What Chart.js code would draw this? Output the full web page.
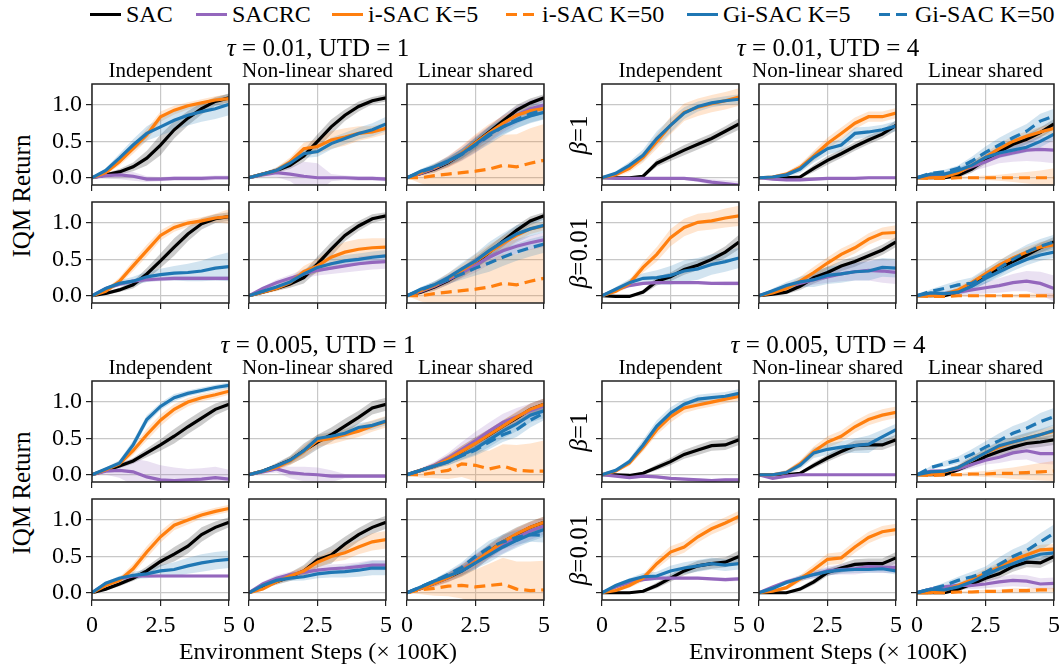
<!DOCTYPE html>
<html>
<head>
<meta charset="utf-8">
<script src="https://cdn.jsdelivr.net/npm/chart.js@4.4.1/dist/chart.umd.min.js"></script>
<style>
  body { margin: 0; width: 1061px; height: 668px; background: #fff; position: relative; overflow: hidden;
         font-family: 'Liberation Serif', 'Times New Roman', serif; color: #000; }
  canvas { position: absolute; }
  .txt { position: absolute; white-space: nowrap; transform: translate(-50%, -50%); line-height: 1; }
  .rot { transform: translate(-50%, -50%) rotate(-90deg); }
  .leg { position: absolute; top: 14px; transform: translateY(-50%); white-space: nowrap; font-size: 24px; line-height: 1;
         display: flex; align-items: center; }
  .sw { display: inline-block; width: 31px; height: 3px; margin-right: 5px; }
</style>
</head>
<body>
<script>
// Learning curves: IQM return vs environment steps (x 100K)
// 4 settings x 2 beta rows x 3 critic types = 24 panels, 11 samples each

const X_STEPS = [0, 0.5, 1, 1.5, 2, 2.5, 3, 3.5, 4, 4.5, 5];
const X_TICKS = [0, 2.5, 5];
const Y_TICKS = [0, 0.5, 1];
const GROUP_TITLES = ['<i>τ</i> = 0.01, UTD = 1', '<i>τ</i> = 0.01, UTD = 4', '<i>τ</i> = 0.005, UTD = 1', '<i>τ</i> = 0.005, UTD = 4'];
const COL_TITLES = ['Independent', 'Non-linear shared', 'Linear shared'];
const ROW_LABELS = ['<i>β</i>=1', '<i>β</i>=0.01'];
const SERIES_NAMES = ['SAC', 'SACRC', 'i-SAC K=5', 'i-SAC K=50', 'Gi-SAC K=5', 'Gi-SAC K=50'];

// panel order: [setting][beta row][Independent, Non-linear shared, Linear shared]
const SAC_MEAN = [
  [0,0.04,0.08,0.15,0.27,0.45,0.66,0.82,0.95,1.05,1.1],
  [0,0.05,0.1,0.17,0.3,0.5,0.7,0.86,0.98,1.06,1.1],
  [0,0.06,0.12,0.21,0.33,0.48,0.63,0.78,0.93,1.03,1.1],
  [0,0.03,0.08,0.15,0.3,0.48,0.67,0.85,0.99,1.06,1.09],
  [0,0.05,0.1,0.16,0.25,0.44,0.64,0.83,0.96,1.06,1.1],
  [0,0.05,0.12,0.21,0.32,0.45,0.6,0.75,0.9,1.03,1.1],
  [0,0,0,0.02,0.2,0.29,0.38,0.46,0.54,0.64,0.74],
  [0,0,0,0.01,0.13,0.24,0.33,0.43,0.52,0.6,0.72],
  [0,0,0,0.03,0.12,0.25,0.36,0.46,0.53,0.62,0.74],
  [0,-0.01,-0.01,0.05,0.2,0.26,0.36,0.42,0.5,0.6,0.74],
  [0,0.02,0.05,0.13,0.25,0.32,0.41,0.47,0.55,0.63,0.74],
  [0,0,0,0.05,0.16,0.27,0.38,0.47,0.56,0.66,0.74],
  [0,0.06,0.12,0.19,0.3,0.41,0.53,0.66,0.78,0.9,0.97],
  [0,0.05,0.12,0.2,0.33,0.45,0.55,0.67,0.79,0.92,0.97],
  [0,0.06,0.12,0.21,0.32,0.44,0.55,0.67,0.78,0.9,0.97],
  [0,0.05,0.12,0.2,0.3,0.43,0.53,0.64,0.8,0.9,0.97],
  [0,0.08,0.15,0.22,0.3,0.45,0.52,0.67,0.8,0.9,0.97],
  [0,0.06,0.13,0.21,0.3,0.42,0.57,0.7,0.8,0.9,0.97],
  [0,0,-0.01,0.02,0.1,0.18,0.28,0.34,0.4,0.41,0.48],
  [0,0,0,0.02,0.13,0.23,0.32,0.4,0.41,0.41,0.48],
  [0,0,0,0.07,0.15,0.25,0.32,0.38,0.43,0.45,0.48],
  [0,0,0,0.02,0.1,0.2,0.3,0.37,0.4,0.42,0.5],
  [0,0,0,0.05,0.15,0.28,0.34,0.39,0.4,0.4,0.48],
  [0,0,0,0.05,0.12,0.2,0.26,0.36,0.42,0.41,0.5]
];
const SAC_BAND = [
  [0,.02,.04,.06,.1,.14,.12,.1,.08,.06,.06],
  [0,.02,.03,.05,.08,.1,.1,.08,.07,.05,.05],
  [0,.03,.05,.06,.07,.08,.08,.08,.07,.06,.05],
  [0,.02,.03,.05,.08,.1,.12,.1,.08,.06,.06],
  [0,.02,.03,.05,.08,.1,.1,.08,.07,.06,.05],
  [0,.03,.05,.06,.07,.08,.08,.08,.07,.06,.05],
  [0,.01,.01,.02,.05,.06,.07,.07,.07,.07,.08],
  [0,.01,.01,.02,.05,.06,.06,.06,.06,.06,.07],
  [0,.01,.02,.03,.05,.06,.07,.07,.07,.07,.07],
  [0,.01,.01,.03,.06,.06,.07,.07,.07,.08,.1],
  [0,.02,.03,.05,.08,.08,.07,.07,.07,.07,.07],
  [0,.01,.02,.03,.05,.06,.07,.07,.07,.07,.07],
  [0,.02,.03,.04,.06,.08,.1,.1,.1,.08,.07],
  [0,.02,.04,.06,.1,.1,.1,.1,.09,.09,.09],
  [0,.02,.04,.06,.08,.08,.08,.08,.08,.08,.08],
  [0,.02,.03,.04,.06,.07,.1,.1,.1,.08,.07],
  [0,.02,.04,.06,.08,.1,.12,.1,.09,.09,.09],
  [0,.02,.04,.06,.08,.1,.1,.1,.1,.08,.08],
  [0,.01,.01,.02,.04,.05,.06,.07,.07,.07,.07],
  [0,.01,.01,.02,.04,.05,.06,.07,.07,.07,.07],
  [0,.01,.02,.03,.04,.05,.06,.07,.07,.07,.07],
  [0,.01,.01,.02,.04,.05,.06,.07,.07,.07,.08],
  [0,.01,.01,.03,.04,.05,.06,.07,.07,.07,.08],
  [0,.01,.02,.03,.04,.05,.06,.07,.07,.07,.07]
];

const SACRC_MEAN = [
  [0,0.03,0.04,0.02,-0.02,-0.02,-0.01,-0.01,-0.01,0,0],
  [0,0.04,0.07,0.05,0.02,0,0,0,-0.01,-0.01,-0.02],
  [0,0.06,0.13,0.22,0.33,0.46,0.6,0.74,0.86,0.95,1.0],
  [0,0.1,0.16,0.2,0.22,0.23,0.24,0.24,0.24,0.24,0.24],
  [0,0.1,0.18,0.24,0.3,0.35,0.38,0.41,0.44,0.46,0.47],
  [0,0.06,0.13,0.22,0.32,0.42,0.53,0.62,0.68,0.73,0.77],
  [0,-0.01,-0.01,-0.01,-0.01,-0.01,-0.01,-0.03,-0.06,-0.08,-0.1],
  [0,-0.02,-0.03,-0.03,-0.02,-0.01,-0.01,-0.01,0,0,0],
  [0,0.04,0.04,0.08,0.15,0.22,0.3,0.34,0.38,0.39,0.38],
  [0,0.08,0.14,0.17,0.18,0.18,0.18,0.18,0.17,0.17,0.17],
  [0,0.06,0.13,0.17,0.22,0.26,0.3,0.33,0.35,0.34,0.32],
  [0,0.02,0.03,0.05,0.08,0.11,0.14,0.18,0.2,0.17,0.1],
  [0,0.05,0.06,0.04,-0.03,-0.07,-0.08,-0.07,-0.06,-0.04,-0.06],
  [0,0.04,0.08,0.03,0.01,0,-0.02,-0.02,-0.02,-0.02,-0.02],
  [0,0.06,0.13,0.23,0.35,0.47,0.6,0.72,0.8,0.88,0.95],
  [0,0.12,0.19,0.23,0.23,0.23,0.23,0.23,0.23,0.23,0.23],
  [0,0.12,0.2,0.25,0.28,0.31,0.33,0.34,0.36,0.38,0.38],
  [0,0.06,0.13,0.21,0.32,0.44,0.56,0.66,0.76,0.85,0.92],
  [0,-0.02,-0.04,-0.02,-0.03,-0.05,-0.06,-0.07,-0.08,-0.07,-0.07],
  [0,-0.05,-0.02,0,0,0,0,0,0,0,0],
  [0,0.05,0.05,0.08,0.14,0.2,0.24,0.3,0.33,0.29,0.29],
  [0,0.08,0.14,0.18,0.2,0.2,0.2,0.2,0.19,0.18,0.19],
  [0,0.08,0.15,0.2,0.25,0.3,0.32,0.33,0.36,0.35,0.35],
  [0,0.05,0.08,0.1,0.1,0.12,0.15,0.17,0.16,0.12,0.13]
];
const SACRC_BAND = [
  [0,.04,.06,.06,.04,.03,.03,.03,.03,.03,.03],
  [0,.03,.06,.1,.2,.2,.05,.03,.03,.03,.03],
  [0,.03,.05,.08,.1,.12,.12,.12,.12,.12,.12],
  [0,.02,.03,.03,.03,.03,.03,.03,.03,.03,.03],
  [0,.02,.04,.05,.06,.07,.08,.09,.1,.1,.1],
  [0,.03,.05,.07,.08,.1,.1,.1,.1,.1,.1],
  [0,.01,.01,.01,.01,.02,.02,.03,.04,.05,.05],
  [0,.01,.02,.02,.02,.02,.02,.02,.02,.02,.02],
  [0,.02,.03,.04,.06,.08,.1,.12,.15,.17,.18],
  [0,.02,.02,.02,.02,.02,.02,.02,.02,.03,.03],
  [0,.03,.04,.05,.07,.08,.1,.12,.14,.16,.16],
  [0,.02,.03,.04,.06,.08,.1,.12,.14,.16,.18],
  [0,.05,.1,.18,.22,.2,.18,.15,.15,.15,.13],
  [0,.03,.05,.08,.1,.1,.08,.03,.02,.02,.02],
  [0,.03,.05,.07,.1,.12,.12,.12,.12,.1,.1],
  [0,.02,.02,.02,.02,.02,.02,.02,.02,.02,.02],
  [0,.03,.04,.04,.05,.05,.06,.06,.06,.07,.07],
  [0,.03,.05,.07,.08,.1,.1,.12,.12,.12,.12],
  [0,.01,.02,.02,.02,.02,.02,.02,.02,.02,.02],
  [0,.02,.02,.01,.01,.01,.01,.01,.01,.01,.01],
  [0,.02,.03,.04,.05,.06,.08,.1,.12,.14,.15],
  [0,.02,.02,.02,.02,.02,.02,.02,.02,.03,.03],
  [0,.02,.03,.04,.05,.06,.07,.08,.08,.08,.08],
  [0,.02,.03,.04,.05,.06,.07,.08,.08,.08,.08]
];

const ISAC5_MEAN = [
  [0,0.07,0.22,0.4,0.59,0.84,0.93,0.99,1.03,1.07,1.09],
  [0,0.05,0.1,0.22,0.4,0.43,0.52,0.56,0.61,0.63,0.68],
  [0,0.07,0.14,0.22,0.34,0.48,0.62,0.75,0.86,0.92,0.95],
  [0,0.06,0.2,0.41,0.62,0.83,0.94,1.0,1.03,1.07,1.09],
  [0,0.05,0.1,0.18,0.33,0.41,0.53,0.6,0.64,0.66,0.67],
  [0,0.07,0.14,0.24,0.35,0.47,0.6,0.72,0.83,0.92,0.96],
  [0,0.04,0.13,0.28,0.5,0.72,0.9,0.97,1.02,1.06,1.11],
  [0,0.01,0.05,0.14,0.3,0.47,0.61,0.75,0.84,0.84,0.89],
  [0,0,0.01,0.07,0.17,0.28,0.4,0.5,0.57,0.63,0.68],
  [0,0.06,0.17,0.39,0.57,0.8,0.94,1.01,1.03,1.07,1.1],
  [0,0.04,0.1,0.2,0.32,0.45,0.57,0.66,0.78,0.86,0.87],
  [0,0,0.02,0.08,0.18,0.3,0.42,0.52,0.6,0.67,0.7],
  [0,0.07,0.15,0.33,0.55,0.75,0.9,1.0,1.06,1.1,1.15],
  [0,0.05,0.1,0.19,0.32,0.47,0.5,0.55,0.6,0.67,0.73],
  [0,0.06,0.12,0.21,0.32,0.43,0.55,0.67,0.79,0.9,0.97],
  [0,0.1,0.17,0.33,0.56,0.77,0.93,1.0,1.07,1.12,1.16],
  [0,0.05,0.15,0.23,0.3,0.42,0.5,0.55,0.63,0.7,0.73],
  [0,0.06,0.13,0.21,0.31,0.43,0.57,0.7,0.81,0.9,0.97],
  [0,0.05,0.16,0.38,0.62,0.8,0.92,0.96,1.0,1.04,1.08],
  [0,0,0.03,0.15,0.32,0.45,0.53,0.66,0.76,0.82,0.86],
  [0,0,0.04,0.1,0.2,0.3,0.38,0.45,0.5,0.55,0.6],
  [0,0.03,0.1,0.2,0.4,0.56,0.63,0.77,0.88,0.96,1.05],
  [0,0.02,0.07,0.19,0.32,0.46,0.48,0.63,0.76,0.84,0.87],
  [0,0,0.03,0.1,0.18,0.27,0.35,0.45,0.52,0.59,0.6]
];
const ISAC5_BAND = [
  [0,.03,.05,.07,.08,.07,.06,.05,.05,.05,.06],
  [0,.02,.04,.06,.08,.1,.12,.12,.1,.08,.08],
  [0,.03,.05,.08,.1,.12,.12,.1,.08,.07,.06],
  [0,.03,.05,.07,.08,.07,.06,.05,.05,.06,.1],
  [0,.03,.04,.06,.08,.1,.12,.14,.14,.13,.12],
  [0,.03,.05,.07,.08,.1,.1,.1,.08,.07,.06],
  [0,.03,.05,.07,.1,.12,.12,.12,.12,.12,.12],
  [0,.02,.03,.05,.07,.08,.08,.08,.07,.07,.07],
  [0,.01,.02,.03,.05,.06,.07,.07,.07,.07,.07],
  [0,.03,.05,.07,.1,.12,.12,.12,.12,.13,.14],
  [0,.02,.04,.06,.08,.08,.08,.08,.08,.08,.1],
  [0,.01,.02,.04,.05,.06,.07,.07,.07,.07,.07],
  [0,.02,.04,.06,.08,.08,.07,.06,.05,.05,.05],
  [0,.02,.04,.06,.08,.08,.08,.08,.08,.08,.08],
  [0,.03,.04,.06,.08,.08,.08,.08,.08,.08,.08],
  [0,.02,.04,.07,.08,.08,.07,.06,.05,.05,.05],
  [0,.02,.03,.05,.06,.07,.08,.1,.1,.12,.12],
  [0,.03,.04,.06,.08,.08,.08,.08,.08,.08,.08],
  [0,.02,.04,.06,.07,.08,.07,.06,.06,.06,.06],
  [0,.02,.03,.05,.07,.08,.08,.08,.08,.08,.08],
  [0,.01,.02,.03,.05,.06,.07,.07,.07,.07,.07],
  [0,.02,.03,.05,.07,.08,.08,.08,.08,.08,.08],
  [0,.02,.03,.05,.07,.08,.08,.08,.08,.08,.08],
  [0,.01,.02,.03,.05,.06,.07,.07,.07,.07,.07]
];

// K=50 runs only exist for the linear shared critic
const ISAC50_MEAN = [
  null, null, [0,0,0.03,0.05,0.07,0.09,0.12,0.17,0.15,0.2,0.24],
  null, null, [0,0,0.03,0.05,0.07,0.09,0.12,0.17,0.15,0.2,0.24],
  null, null, [0,-0.01,-0.01,0,0,0,0,0,0,0,0],
  null, null, [0,-0.01,-0.01,0,0,0,0,0,0,0,0],
  null, null, [0,0,0.03,0.06,0.15,0.13,0.08,0.12,0.06,0.05,0.05],
  null, null, [0,0.04,0.06,0.09,0.1,0.08,0.1,0.12,0.05,0.03,0.04],
  null, null, [0,-0.01,0,0,0.01,0.01,0.02,0.02,0.03,0.04,0.05],
  null, null, [0,0,0,0.01,0.01,0.02,0.02,0.03,0.03,0.04,0.04]
];
const ISAC50_BAND = [
  null, null, [0,.08,.15,.2,.28,.33,.38,.42,.45,.48,.5],
  null, null, [0,.08,.15,.2,.28,.33,.38,.4,.42,.44,.45],
  null, null, [0,.01,.01,.02,.02,.03,.04,.06,.08,.1,.13],
  null, null, [0,.01,.01,.01,.02,.02,.02,.02,.03,.03,.03],
  null, null, [0,.04,.08,.12,.18,.22,.25,.3,.35,.38,.42],
  null, null, [0,.06,.1,.14,.18,.24,.3,.36,.38,.4,.4],
  null, null, [0,.01,.02,.02,.03,.04,.06,.08,.1,.12,.14],
  null, null, [0,.01,.01,.01,.02,.02,.02,.03,.03,.03,.03]
];

const GISAC5_MEAN = [
  [0,0.1,0.27,0.45,0.61,0.7,0.79,0.86,0.91,0.95,1.01],
  [0,0.05,0.1,0.2,0.33,0.36,0.47,0.54,0.61,0.66,0.74],
  [0,0.09,0.15,0.23,0.33,0.46,0.6,0.7,0.78,0.85,0.9],
  [0,0.1,0.17,0.2,0.26,0.29,0.31,0.32,0.34,0.38,0.4],
  [0,0.06,0.12,0.19,0.3,0.39,0.44,0.48,0.5,0.53,0.55],
  [0,0.09,0.15,0.25,0.37,0.48,0.62,0.74,0.85,0.92,0.97],
  [0,0.06,0.17,0.31,0.54,0.72,0.89,0.98,1.03,1.06,1.08],
  [0,0.01,0.04,0.12,0.28,0.4,0.45,0.61,0.63,0.66,0.71],
  [0,0.05,0.05,0.1,0.17,0.28,0.34,0.38,0.42,0.5,0.6],
  [0,0.09,0.18,0.24,0.25,0.28,0.34,0.37,0.43,0.47,0.52],
  [0,0.07,0.14,0.19,0.22,0.28,0.3,0.33,0.34,0.39,0.38],
  [0,0.04,0.03,0.05,0.13,0.24,0.33,0.42,0.5,0.56,0.6],
  [0,0.08,0.16,0.41,0.76,0.94,1.06,1.12,1.16,1.2,1.23],
  [0,0.05,0.12,0.2,0.33,0.5,0.53,0.57,0.65,0.68,0.74],
  [0,0.06,0.12,0.18,0.27,0.36,0.48,0.6,0.7,0.82,0.88],
  [0,0.13,0.2,0.24,0.26,0.3,0.32,0.37,0.41,0.44,0.46],
  [0,0.1,0.17,0.2,0.22,0.26,0.28,0.29,0.31,0.34,0.34],
  [0,0.08,0.16,0.23,0.3,0.41,0.52,0.63,0.72,0.8,0.87],
  [0,0.06,0.18,0.41,0.67,0.85,0.97,1.04,1.06,1.08,1.12],
  [0,0,0.03,0.13,0.3,0.35,0.38,0.4,0.42,0.52,0.62],
  [0,0.04,0.05,0.1,0.2,0.3,0.4,0.45,0.5,0.55,0.61],
  [0,0.1,0.17,0.22,0.23,0.3,0.34,0.37,0.4,0.38,0.4],
  [0,0.06,0.14,0.2,0.25,0.29,0.31,0.32,0.32,0.33,0.3],
  [0,0.05,0.04,0.08,0.15,0.24,0.33,0.4,0.47,0.53,0.55]
];
const GISAC5_BAND = [
  [0,.03,.06,.08,.1,.12,.14,.14,.14,.14,.15],
  [0,.02,.04,.05,.06,.07,.08,.08,.08,.09,.1],
  [0,.03,.05,.06,.07,.08,.1,.1,.1,.1,.1],
  [0,.02,.04,.06,.07,.08,.1,.12,.14,.17,.2],
  [0,.02,.04,.05,.06,.07,.08,.08,.08,.08,.08],
  [0,.03,.05,.06,.08,.1,.12,.12,.12,.1,.1],
  [0,.03,.05,.08,.1,.1,.08,.07,.06,.06,.07],
  [0,.02,.03,.05,.07,.08,.08,.08,.07,.07,.07],
  [0,.02,.03,.04,.05,.06,.07,.07,.07,.08,.08],
  [0,.03,.05,.07,.1,.13,.15,.15,.14,.14,.14],
  [0,.03,.05,.07,.1,.12,.12,.12,.13,.13,.13],
  [0,.02,.03,.05,.06,.07,.08,.08,.08,.08,.08],
  [0,.02,.04,.06,.06,.05,.05,.04,.04,.04,.04],
  [0,.02,.03,.05,.05,.05,.06,.06,.06,.06,.06],
  [0,.02,.03,.05,.06,.08,.1,.1,.1,.1,.1],
  [0,.02,.03,.05,.06,.08,.1,.11,.12,.12,.12],
  [0,.02,.03,.04,.05,.06,.07,.08,.09,.1,.1],
  [0,.02,.03,.05,.06,.08,.1,.1,.1,.1,.1],
  [0,.02,.04,.07,.08,.08,.07,.06,.06,.06,.06],
  [0,.02,.03,.05,.07,.08,.08,.1,.12,.1,.08],
  [0,.02,.03,.04,.05,.06,.07,.07,.08,.08,.08],
  [0,.02,.03,.05,.06,.07,.08,.08,.08,.08,.08],
  [0,.02,.03,.04,.05,.05,.05,.05,.05,.05,.05],
  [0,.02,.03,.04,.05,.06,.07,.08,.08,.08,.08]
];

const GISAC50_MEAN = [
  null, null, [0,0.08,0.14,0.22,0.32,0.45,0.58,0.7,0.8,0.88,0.93],
  null, null, [0,0.08,0.15,0.22,0.3,0.38,0.45,0.53,0.6,0.66,0.71],
  null, null, [0,0.06,0.08,0.13,0.23,0.35,0.45,0.55,0.64,0.78,0.85],
  null, null, [0,0.06,0.1,0.15,0.17,0.27,0.38,0.5,0.6,0.68,0.74],
  null, null, [0,0.06,0.12,0.18,0.26,0.34,0.45,0.55,0.62,0.75,0.85],
  null, null, [0,0.08,0.16,0.25,0.35,0.5,0.62,0.7,0.76,0.8,0.79],
  null, null, [0,0.1,0.15,0.2,0.28,0.38,0.47,0.57,0.64,0.73,0.8],
  null, null, [0,0.05,0.1,0.17,0.22,0.28,0.39,0.5,0.58,0.7,0.82]
];
const GISAC50_BAND = [
  null, null, [0,.03,.05,.06,.08,.1,.12,.12,.12,.12,.12],
  null, null, [0,.03,.05,.06,.08,.1,.12,.12,.12,.12,.12],
  null, null, [0,.02,.03,.04,.06,.08,.1,.1,.1,.1,.1],
  null, null, [0,.03,.05,.06,.08,.1,.1,.1,.1,.1,.1],
  null, null, [0,.02,.03,.05,.06,.08,.1,.1,.1,.1,.1],
  null, null, [0,.02,.03,.05,.07,.08,.1,.1,.1,.1,.1],
  null, null, [0,.02,.04,.05,.07,.08,.1,.1,.1,.12,.12],
  null, null, [0,.02,.04,.05,.07,.08,.1,.1,.1,.12,.12]
];

// series styling (drawn in this order, later ones on top)
const SERIES = [
  { mean: SAC_MEAN,     band: SAC_BAND,     color: '#000000', shade: 'rgba(0,0,0,0.2)',       dash: [] },
  { mean: SACRC_MEAN,   band: SACRC_BAND,   color: '#9467bd', shade: 'rgba(148,103,189,0.2)', dash: [] },
  { mean: ISAC5_MEAN,   band: ISAC5_BAND,   color: '#ff7f0e', shade: 'rgba(255,127,14,0.2)',  dash: [] },
  { mean: ISAC50_MEAN,  band: ISAC50_BAND,  color: '#ff7f0e', shade: 'rgba(255,127,14,0.2)',  dash: [11, 6] },
  { mean: GISAC5_MEAN,  band: GISAC5_BAND,  color: '#1f77b4', shade: 'rgba(31,119,180,0.2)',  dash: [] },
  { mean: GISAC50_MEAN, band: GISAC50_BAND, color: '#1f77b4', shade: 'rgba(31,119,180,0.2)',  dash: [11, 6] }
];

// page layout
const PANEL_LEFT = [92, 249, 407, 602, 759, 917];
const PANEL_TOP = [84, 202, 381, 499];
const PW = 137, PH = 101;
const ML = 50, MR = 10, MT = 4, MB = 46;
const FONT = "'Liberation Serif', 'Times New Roman', serif";

function addText(html, x, y, size, cls) {
  const d = document.createElement('div');
  d.className = 'txt' + (cls ? ' ' + cls : '');
  d.style.left = x + 'px';
  d.style.top = y + 'px';
  d.style.fontSize = size + 'px';
  d.innerHTML = html;
  document.body.appendChild(d);
}

// frame around the plot area (matplotlib spines)
const framePlugin = {
  id: 'frame',
  afterDraw(chart) {
    const a = chart.chartArea, c = chart.ctx;
    c.save();
    c.strokeStyle = '#222';
    c.lineWidth = 1.5;
    c.strokeRect(a.left, a.top, a.right - a.left, a.bottom - a.top);
    c.restore();
  }
};

function points(arr) {
  return X_STEPS.map((x, i) => ({ x: x, y: arr[i] }));
}

function makePanel(p) {
  const g = Math.floor(p / 6), r = Math.floor((p % 6) / 3), c = p % 3;
  const left = PANEL_LEFT[(g % 2) * 3 + c];
  const rowIdx = Math.floor(g / 2) * 2 + r;
  const top = PANEL_TOP[rowIdx];

  const canvas = document.createElement('canvas');
  canvas.width = ML + PW + MR;
  canvas.height = MT + PH + MB;
  canvas.style.left = (left - ML) + 'px';
  canvas.style.top = (top - MT) + 'px';
  canvas.style.width = canvas.width + 'px';
  canvas.style.height = canvas.height + 'px';
  document.body.appendChild(canvas);

  const showY = (g % 2 === 0) && c === 0;
  const showX = rowIdx === PANEL_TOP.length - 1;

  const datasets = [];
  // shaded bands first
  SERIES.forEach((s, k) => {
    const m = s.mean[p], b = s.band[p];
    if (!m) return;
    datasets.push({ data: points(m.map((v, i) => v - b[i])), borderWidth: 0, pointRadius: 0, fill: false, order: 40 - k * 2 });
    datasets.push({ data: points(m.map((v, i) => v + b[i])), borderWidth: 0, pointRadius: 0, fill: '-1',
                    backgroundColor: s.shade, order: 39 - k * 2 });
  });
  // mean lines on top
  SERIES.forEach((s, k) => {
    const m = s.mean[p];
    if (!m) return;
    datasets.push({ data: points(m), borderColor: s.color, borderWidth: 3.2, borderDash: s.dash,
                    pointRadius: 0, fill: false, tension: 0, order: 10 - k });
  });

  new Chart(canvas, {
    type: 'line',
    data: { datasets: datasets },
    options: {
      responsive: false,
      animation: false,
      events: [],
      layout: { padding: { top: MT, right: MR, left: 0, bottom: 0 } },
      plugins: { legend: { display: false }, tooltip: { enabled: false } },
      scales: {
        x: {
          type: 'linear', min: 0, max: 5,
          afterBuildTicks: s => { s.ticks = X_TICKS.map(v => ({ value: v })); },
          afterFit: s => { s.height = MB; s.paddingLeft = 0; s.paddingRight = 0; },
          border: { display: false },
          grid: { color: '#c8c8c8', lineWidth: 1.2, tickColor: '#222', tickLength: 6, tickWidth: 1.2 },
          ticks: { display: showX, padding: 5, maxRotation: 0, autoSkip: false, color: '#000',
                   font: { family: FONT, size: 24 }, callback: v => String(v) }
        },
        y: {
          min: -0.1, max: 1.29,
          afterBuildTicks: s => { s.ticks = Y_TICKS.map(v => ({ value: v })); },
          afterFit: s => { s.width = ML; s.paddingTop = 0; s.paddingBottom = 0; },
          border: { display: false },
          grid: { color: '#c8c8c8', lineWidth: 1.2, tickColor: '#222', tickLength: 6, tickWidth: 1.2 },
          ticks: { display: showY, padding: 4, color: '#000',
                   font: { family: FONT, size: 24 }, callback: v => v.toFixed(1) }
        }
      }
    },
    plugins: [framePlugin]
  });
}

// legend
const LEGEND_LEFT = [90, 196, 332, 506, 687, 879];
SERIES_NAMES.forEach((name, k) => {
  const s = SERIES[k];
  const item = document.createElement('div');
  item.className = 'leg';
  item.style.left = LEGEND_LEFT[k] + 'px';
  const sw = document.createElement('span');
  sw.className = 'sw';
  sw.style.background = s.dash.length
    ? 'repeating-linear-gradient(90deg, ' + s.color + ' 0 11px, transparent 11px 17px)'
    : s.color;
  item.appendChild(sw);
  item.appendChild(document.createTextNode(name));
  document.body.appendChild(item);
});

for (let p = 0; p < 24; p++) makePanel(p);

// titles and labels
GROUP_TITLES.forEach((t, g) => {
  const l = PANEL_LEFT[(g % 2) * 3], rgt = PANEL_LEFT[(g % 2) * 3 + 2] + PW;
  const blockTop = PANEL_TOP[Math.floor(g / 2) * 2];
  addText(t, (l + rgt) / 2, blockTop - 37, 25);
  COL_TITLES.forEach((ct, c) => {
    addText(ct, PANEL_LEFT[(g % 2) * 3 + c] + PW / 2, blockTop - 14, 21);
  });
});
[0, 2].forEach(b => {
  const yc = (PANEL_TOP[b] + PANEL_TOP[b + 1] + PH) / 2;
  addText('IQM Return', 21, yc + 2, 25, 'rot');
});
PANEL_TOP.forEach((t, i) => {
  addText(ROW_LABELS[i % 2], 578, t + PH / 2, 25, 'rot');
});
[0, 1].forEach(h => {
  const l = PANEL_LEFT[h * 3], rgt = PANEL_LEFT[h * 3 + 2] + PW;
  addText('Environment Steps (× 100K)', (l + rgt) / 2, 651, 24);
});
</script>
</body>
</html>
